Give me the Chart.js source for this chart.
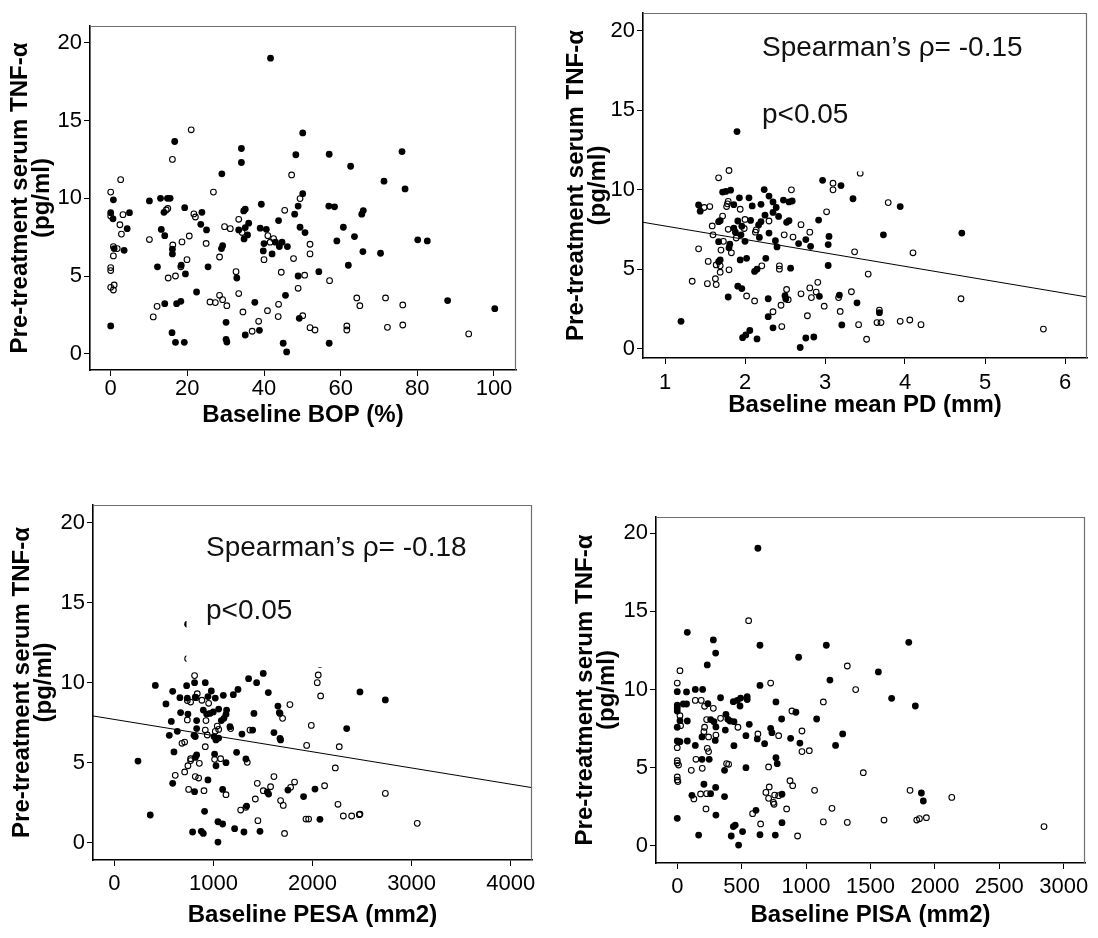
<!DOCTYPE html>
<html>
<head>
<meta charset="utf-8">
<title>Pre-treatment serum TNF-α vs baseline periodontal parameters</title>
<script src="https://cdn.jsdelivr.net/npm/chart.js@4.4.1/dist/chart.umd.min.js"></script>
<style>
  html, body { margin: 0; padding: 0; background: #fff; }
  #wrap { position: relative; width: 1098px; height: 938px; overflow: hidden; background: #fff; }
  #wrap canvas { position: absolute; }
</style>
</head>
<body>
<div id="wrap">
  <canvas id="bop"  width="549" height="440" style="left:0px;top:0px"></canvas>
  <canvas id="pd"   width="549" height="440" style="left:549px;top:0px"></canvas>
  <canvas id="pesa" width="549" height="469" style="left:0px;top:469px"></canvas>
  <canvas id="pisa" width="549" height="469" style="left:549px;top:469px"></canvas>
</div>
<script>
// ---- y axis (shared) ----
const yTitleLines = ['Pre-treatment serum TNF-α', '(pg/ml)'];
const yTicks = [0, 5, 10, 15, 20];

// ---- Baseline BOP (%) ----
const bopTicks = [0, 20, 40, 60, 80, 100];
const bopFilled = [[41.7,19.0],[16.7,13.65],[34.1,13.2],[34.1,12.3],[29.0,11.57],[0.7,9.9],[10.1,9.83],[13.0,10.0],[14.8,10.0],[15.5,10.0],[13.9,9.1],[19.3,9.4],[0,9.08],[0.6,8.68],[4.9,9.08],[4.3,8.05],[13.2,8.0],[14.1,7.6],[23.8,9.1],[23.5,8.33],[25.0,7.97],[16.1,6.73],[16.1,6.43],[33.4,7.97],[34.7,9.19],[35.1,9.3],[35.1,8.12],[36.0,8.4],[35.7,7.65],[34.8,7.39],[39.3,9.62],[39.0,8.08],[40.6,8.01],[40.0,7.09],[39.8,6.62],[43.0,7.18],[44.7,7.18],[44.0,6.9],[46.1,6.9],[42.1,6.43],[43.8,8.57],[48.3,12.8],[50.1,14.2],[50.1,10.3],[48.9,9.5],[48.0,8.98],[49.4,8.14],[50.7,7.8],[18.4,5.7],[19.5,5.14],[12.2,5.6],[25.4,5.6],[28.9,6.77],[29.2,6.96],[32.9,4.88],[48.9,5.01],[45.6,3.77],[0.9,6.77],[3.5,6.66],[0,1.8],[22.4,3.98],[14.1,3.23],[17.2,3.23],[18.3,3.38],[37.6,3.32],[49.2,2.29],[30.1,2.03],[38.8,1.52],[35.1,1.22],[30.1,0.94],[30.3,0.77],[16.0,1.37],[16.9,0.75],[19.2,0.75],[45.0,0.69],[45.9,0.13],[57.0,12.83],[76.0,13.0],[62.6,12.06],[71.3,11.1],[76.8,10.6],[56.9,9.5],[58.4,9.45],[65.9,9.21],[65.5,8.98],[60.7,8.14],[63.6,7.54],[59.0,7.26],[80.1,7.33],[82.6,7.26],[65.8,6.58],[70.4,6.47],[62.0,5.7],[54.3,5.29],[87.9,3.43],[100.2,2.91],[57.0,0.69]];
const bopOpen = [[21.0,14.4],[16.1,12.5],[2.6,11.2],[0,10.4],[26.8,10.4],[14.5,9.25],[14.9,9.35],[0,8.87],[3.2,8.95],[2.4,8.3],[2.8,7.7],[10.1,7.35],[21.7,9.0],[22.1,8.8],[20.5,7.58],[18.6,7.2],[16.2,7.0],[24.9,7.1],[29.7,8.18],[31.2,8.05],[33.4,8.65],[34.3,7.8],[41.0,7.6],[41.6,7.18],[42.5,7.41],[40.0,6.06],[45.4,9.23],[47.2,11.5],[49.4,9.98],[47.7,6.13],[19.9,6.06],[18.3,5.6],[15.0,4.88],[16.9,5.01],[28.4,6.23],[32.7,5.29],[44.5,5.25],[50.6,5.06],[48.9,4.22],[0.7,6.9],[1.7,6.77],[0.7,6.3],[0,5.55],[0,5.36],[0.9,4.43],[0,4.28],[0.7,4.11],[28.4,3.77],[25.9,3.34],[27.3,3.3],[29.2,3.49],[30.3,3.1],[12.1,3.06],[11.1,2.38],[33.4,3.88],[34.5,2.7],[40.9,2.78],[43.8,3.19],[43.7,2.4],[50.1,2.46],[38.6,2.1],[36.9,1.46],[52.0,7.05],[52.0,6.43],[57.1,4.71],[64.2,3.6],[65.0,3.1],[71.7,3.6],[76.2,3.15],[52.0,1.69],[53.3,1.54],[61.6,1.8],[61.6,1.54],[72.2,1.71],[76.2,1.86],[93.4,1.29]];

// ---- Baseline mean PD (mm) ----
const pdTicks = [1, 2, 3, 4, 5, 6];
const pdFilled = [[1.90,13.65],[1.72,9.84],[1.76,9.88],[1.82,9.96],[1.86,9.05],[1.42,9.03],[1.44,8.64],[1.93,9.48],[2.05,9.48],[2.09,8.97],[2.20,9.07],[2.24,10.0],[2.30,9.59],[2.35,9.22],[2.48,9.34],[2.55,9.22],[2.59,9.28],[2.39,8.87],[2.25,8.39],[2.35,8.56],[2.42,8.31],[1.69,8.04],[1.67,7.98],[1.91,8.02],[2.07,8.06],[1.96,7.69],[1.86,7.57],[1.88,7.32],[1.95,7.15],[2.17,7.77],[2.20,7.98],[2.30,7.26],[2.18,6.99],[2.52,7.94],[2.55,8.04],[2.67,6.6],[2.76,6.85],[2.82,6.43],[2.92,8.08],[2.97,10.58],[3.20,10.25],[3.35,9.42],[3.05,7.05],[3.04,6.54],[2.38,6.78],[2.40,6.39],[2.0,6.74],[1.67,6.72],[1.81,6.56],[1.80,6.33],[1.69,5.57],[1.67,5.46],[1.94,5.57],[2.02,5.67],[2.12,4.85],[2.15,4.99],[2.26,5.67],[2.57,5.05],[3.04,5.22],[1.91,3.92],[1.96,3.77],[1.79,3.24],[2.29,3.13],[2.50,3.32],[2.51,3.11],[2.93,3.28],[3.18,3.36],[3.40,2.87],[2.29,2.0],[2.35,1.30],[3.21,1.48],[1.20,1.71],[1.97,0.68],[2.01,0.85],[2.06,1.13],[2.15,0.6],[2.69,0.06],[2.76,0.66],[2.86,0.72],[3.94,8.93],[3.73,7.15],[4.71,7.26],[3.68,2.25]];
const pdOpen = [[1.80,11.2],[1.67,10.74],[1.79,9.26],[1.78,9.1],[1.49,8.87],[1.56,8.93],[1.77,8.93],[1.94,8.76],[2.58,9.98],[1.72,8.33],[1.59,7.71],[1.60,7.15],[2.0,8.12],[1.99,7.55],[1.79,7.5],[2.14,7.46],[2.13,7.32],[2.30,8.02],[2.49,7.15],[2.60,7.01],[2.70,7.79],[2.81,7.32],[3.02,8.6],[3.10,10.4],[3.10,9.98],[3.37,6.08],[1.89,6.95],[1.73,6.74],[1.70,6.19],[1.83,6.02],[1.42,6.27],[1.54,5.48],[1.64,5.26],[1.69,5.2],[1.69,4.8],[1.80,4.95],[2.21,5.2],[2.43,5.2],[2.43,4.99],[1.34,4.23],[1.53,4.08],[1.63,4.39],[1.64,4.02],[2.02,3.30],[2.12,2.99],[2.52,3.71],[2.54,3.07],[2.45,2.72],[2.35,2.31],[2.46,1.38],[2.70,3.44],[2.81,3.81],[2.91,4.16],[2.83,3.2],[2.89,3.55],[2.78,2.06],[2.99,2.66],[3.17,3.2],[3.33,3.57],[3.19,2.33],[3.42,1.5],[3.79,9.18],[4.10,6.02],[3.54,4.68],[4.70,3.13],[3.68,2.41],[3.65,1.63],[3.70,1.63],[3.94,1.71],[4.06,1.79],[4.20,1.5],[3.52,0.58],[5.73,1.22],[3.44,11.03]];
const pdFit = [[0.725,7.94],[6.275,3.24]];

// ---- Baseline PESA (mm2) ----
const pesaTicks = [0, 1000, 2000, 3000, 4000];
const pesaFilled = [[740,13.65],[414,9.83],[363,1.73],[239,5.1],[730,9.81],[810,10.0],[918,10.0],[589,9.46],[662,9.06],[737,9.04],[817,9.1],[979,9.48],[1019,9.04],[945,9.13],[521,8.67],[1100,9.21],[1201,9.25],[1248,9.58],[1355,10.25],[1436,10.0],[1503,10.58],[1554,9.38],[1651,8.54],[1665,8.13],[1672,8.08],[1409,8.08],[669,8.13],[743,8.04],[575,7.58],[831,7.63],[831,7.13],[898,8.29],[932,8.04],[965,8.08],[999,8.17],[1053,8.35],[1133,8.29],[1080,7.63],[1106,7.77],[1127,8.02],[1167,7.25],[1288,6.79],[1396,7.04],[1611,6.88],[1672,6.52],[1678,6.42],[555,6.71],[636,6.96],[804,6.71],[817,6.63],[1006,6.63],[1053,6.54],[1026,6.42],[602,5.67],[831,5.48],[817,5.33],[1012,5.54],[1026,4.81],[1127,5.0],[1234,5.65],[1328,5.23],[945,3.92],[589,3.71],[810,3.19],[1093,3.33],[1544,3.17],[1557,3.04],[1335,2.29],[1752,3.29],[1910,2.88],[911,1.96],[1046,1.31],[1093,1.17],[1214,0.88],[1308,0.67],[1470,0.71],[790,0.67],[878,0.71],[898,0.58],[1046,0.04],[2479,9.42],[2735,8.92],[2345,7.13],[2025,3.35],[2075,1.46]];
const pesaOpen = [[740,11.5],[810,10.44],[737,8.88],[770,8.79],[837,9.31],[824,9.06],[884,8.9],[952,8.71],[1698,7.77],[1772,8.63],[737,7.67],[925,7.63],[918,7.04],[1039,7.29],[1019,6.96],[1053,7.08],[1174,7.13],[1369,7.04],[938,6.73],[683,6.21],[710,6.29],[918,6.0],[770,5.25],[858,4.96],[1012,5.21],[1073,5.25],[1342,5.02],[743,4.81],[770,5.13],[615,4.21],[710,4.42],[817,4.13],[851,4.04],[750,3.33],[905,3.25],[1127,3.0],[1443,3.71],[1503,3.25],[1577,3.5],[1611,4.13],[1423,2.73],[1328,2.21],[1275,2.04],[1678,2.63],[1705,2.33],[1779,3.46],[1819,3.79],[1934,1.48],[1449,1.38],[1718,0.58],[2075,11.15],[2058,10.48],[2048,10.0],[2082,9.17],[1988,7.33],[1941,6.08],[2270,6.0],[2230,4.67],[2122,3.56],[2735,3.08],[2257,2.4],[1961,1.48],[2311,1.67],[2395,1.67],[2472,1.75],[2479,1.79],[3057,1.21]];
const pesaFit = [[-215,7.92],[4215,3.44]];

// ---- Baseline PISA (mm2) ----
const pisaTicks = [0, 500, 1000, 1500, 2000, 2500, 3000];
const pisaFilled = [[626,19.04],[78,13.66],[280,13.17],[298,12.33],[642,12.83],[942,12.06],[1157,12.83],[1185,10.6],[233,11.57],[0,9.86],[72,9.84],[140,10.0],[197,10.0],[336,9.47],[642,10.26],[0,9.0],[0,8.83],[0,8.62],[47,9.07],[72,9.07],[238,9.09],[435,9.22],[466,9.3],[492,9.45],[543,9.54],[543,9.35],[487,8.94],[766,9.2],[921,8.54],[1082,8.11],[810,8.11],[78,7.98],[21,8.0],[0,7.58],[259,8.07],[285,7.94],[300,7.6],[378,8.41],[393,8.09],[409,7.98],[440,7.94],[373,7.4],[559,7.77],[192,6.96],[295,6.74],[0,6.7],[21,6.66],[78,6.7],[140,6.42],[248,5.53],[192,5.53],[440,6.4],[533,7.04],[621,6.83],[678,6.53],[725,7.51],[735,7.23],[880,6.87],[952,6.57],[1229,6.42],[1284,7.15],[367,4.82],[533,4.99],[766,5.63],[776,5.25],[207,3.93],[298,3.73],[114,3.22],[259,3.33],[367,3.14],[813,3.29],[300,1.96],[611,2.26],[0,1.75],[813,1.47],[435,1.22],[450,1.32],[507,0.9],[166,0.68],[419,0.62],[642,0.7],[761,0.68],[476,0.04],[1797,13.02],[1561,11.12],[1664,9.43],[1848,8.94],[1895,3.37],[1910,2.86]];
const pisaOpen = [[554,14.4],[1320,11.5],[1385,9.99],[21,11.2],[0,10.41],[725,10.41],[140,9.3],[186,9.3],[212,8.92],[280,8.79],[1134,9.2],[890,8.62],[21,8.32],[26,7.68],[228,8.07],[212,7.58],[207,7.3],[336,8.15],[471,7.58],[243,6.96],[300,7.08],[0,6.27],[10,6.66],[233,6.23],[243,6.02],[145,5.53],[626,7.15],[787,7.04],[968,7.34],[968,6.02],[1025,6.08],[0,5.44],[0,5.29],[10,5.16],[109,4.82],[194,4.95],[383,5.25],[399,5.21],[709,5.04],[1444,4.67],[0,4.4],[0,4.2],[5,4.1],[129,2.99],[181,3.31],[228,3.33],[714,3.76],[688,3.41],[709,3.03],[756,3.24],[746,2.77],[751,2.65],[787,3.2],[875,4.16],[896,3.84],[1066,3.54],[849,2.35],[1201,2.39],[223,2.35],[585,2.05],[647,1.39],[1134,1.52],[1320,1.49],[934,0.62],[1807,3.54],[2131,3.09],[1605,1.64],[1859,1.64],[1880,1.73],[1934,1.79],[2847,1.22]];

// ---- rendering ----
const FONT = "'Liberation Sans', Arial, Helvetica, sans-serif";
const toPts = arr => arr.map(p => ({ x: p[0], y: p[1] }));
const fixedTicks = values => scale => { scale.ticks = values.map(v => ({ value: v })); };

// light top/right edges of the plot box
const boxEdges = {
  id: 'boxEdges',
  afterDraw(chart) {
    const { ctx, chartArea: a } = chart;
    ctx.save();
    ctx.strokeStyle = '#6f6f6f';
    ctx.lineWidth = 1.2;
    ctx.beginPath();
    ctx.moveTo(a.left, a.top + 0.5);
    ctx.lineTo(a.right - 0.5, a.top + 0.5);
    ctx.lineTo(a.right - 0.5, a.bottom);
    ctx.stroke();
    ctx.restore();
  }
};

// statistics text box (white background drawn over the markers)
const statNote = {
  id: 'statNote',
  afterDatasetsDraw(chart, args, opts) {
    if (!opts || !opts.lines) return;
    const ctx = chart.ctx;
    ctx.save();
    if (opts.box) {
      const b = opts.box;
      ctx.fillStyle = '#fff';
      ctx.fillRect(b.l, b.t, b.r - b.l, b.b - b.t);
    }
    ctx.fillStyle = '#111';
    ctx.font = '28px ' + FONT;
    ctx.textAlign = 'left';
    ctx.textBaseline = 'middle';
    opts.lines.forEach(l => ctx.fillText(l.text, l.x, l.y));
    ctx.restore();
  }
};

function makePanel(p) {
  const el = document.getElementById(p.id);
  const W = el.width, H = el.height, f = p.frame;
  const datasets = [
    { label: 'filled', data: toPts(p.filled), showLine: false,
      pointRadius: 3.4, pointBorderWidth: 0, pointBackgroundColor: '#000', pointBorderColor: '#000' },
    { label: 'open', data: toPts(p.open), showLine: false,
      pointRadius: 2.85, pointBorderWidth: 1.1, pointBackgroundColor: 'rgba(0,0,0,0)', pointBorderColor: '#000' }
  ];
  if (p.fit) {
    datasets.push({ label: 'fit', data: toPts(p.fit), showLine: true, borderColor: '#000',
      borderWidth: 1, pointRadius: 0, fill: false });
  }
  const tickFont = { family: FONT, size: 22, lineHeight: 1 };
  const titleFont = { family: FONT, size: 24, weight: 'bold', lineHeight: 0.92 };
  const gridCfg = { drawOnChartArea: false, drawTicks: true, tickLength: 6, color: '#000', lineWidth: 1 };
  new Chart(el, {
    type: 'scatter',
    data: { datasets },
    options: {
      responsive: false,
      animation: false,
      events: [],
      layout: { padding: { top: f.t, right: W - f.r, left: 0, bottom: 0 } },
      plugins: {
        legend: { display: false },
        tooltip: { enabled: false },
        statNote: p.note || {}
      },
      scales: {
        x: {
          type: 'linear', min: p.xMin, max: p.xMax,
          afterBuildTicks: fixedTicks(p.xTicks),
          afterFit: s => { s.height = H - f.b; },
          ticks: { font: tickFont, color: '#000', padding: p.xTickPad, maxRotation: 0,
                   autoSkip: false, callback: v => String(v) },
          grid: gridCfg,
          border: { color: '#000', width: 1.6 },
          title: { display: true, text: p.xTitle, font: titleFont, color: '#000',
                   padding: { top: 0, bottom: p.xTitlePad } }
        },
        y: {
          type: 'linear', min: p.yMin, max: p.yMax,
          afterBuildTicks: fixedTicks(yTicks),
          afterFit: s => { s.width = f.l; },
          ticks: { font: tickFont, color: '#000', padding: 2, autoSkip: false,
                   callback: v => String(v) },
          grid: gridCfg,
          border: { color: '#000', width: 1.6 },
          title: { display: true, text: yTitleLines, font: titleFont, color: '#000',
                   padding: { top: p.yTitlePad, bottom: 0 } }
        }
      }
    },
    plugins: [boxEdges, statNote]
  });
}

makePanel({
  id: 'bop', frame: { l: 90, t: 26, r: 516, b: 370 },
  xMin: -5.4, xMax: 105.74, xTicks: bopTicks, yMin: -1.03, yMax: 21.07,
  xTitle: 'Baseline BOP (%)', xTitlePad: 14, xTickPad: 2, yTitlePad: 9,
  filled: bopFilled, open: bopOpen
});

makePanel({
  id: 'pd', frame: { l: 94, t: 7, r: 538, b: 358 },
  xMin: 0.725, xMax: 6.275, xTicks: pdTicks, yMin: -0.6, yMax: 21.11,
  xTitle: 'Baseline mean PD (mm)', xTitlePad: 24, xTickPad: 8, yTitlePad: 16,
  filled: pdFilled, open: pdOpen, fit: pdFit,
  note: { box: { l: 203, t: 28, r: 531, b: 171.5 },
          lines: [ { text: 'Spearman’s ρ= -0.15', x: 213, y: 48 }, { text: 'p<0.05', x: 213, y: 115 } ] }
});

makePanel({
  id: 'pesa', frame: { l: 93, t: 36, r: 532, b: 391 },
  xMin: -215, xMax: 4215, xTicks: pesaTicks, yMin: -1.08, yMax: 21.1,
  xTitle: 'Baseline PESA (mm2)', xTitlePad: 12, xTickPad: 7, yTitlePad: 11,
  filled: pesaFilled, open: pesaOpen, fit: pesaFit,
  note: { box: { l: 186.5, t: 51, r: 500, b: 198 },
          lines: [ { text: 'Spearman’s ρ= -0.18', x: 206, y: 79 }, { text: 'p<0.05', x: 206, y: 142 } ] }
});

makePanel({
  id: 'pisa', frame: { l: 107, t: 48, r: 536, b: 394 },
  xMin: -165, xMax: 3165, xTicks: pisaTicks, yMin: -1.11, yMax: 21.04,
  xTitle: 'Baseline PISA (mm2)', xTitlePad: 12, xTickPad: 7, yTitlePad: 25,
  filled: pisaFilled, open: pisaOpen
});
</script>
</body>
</html>
